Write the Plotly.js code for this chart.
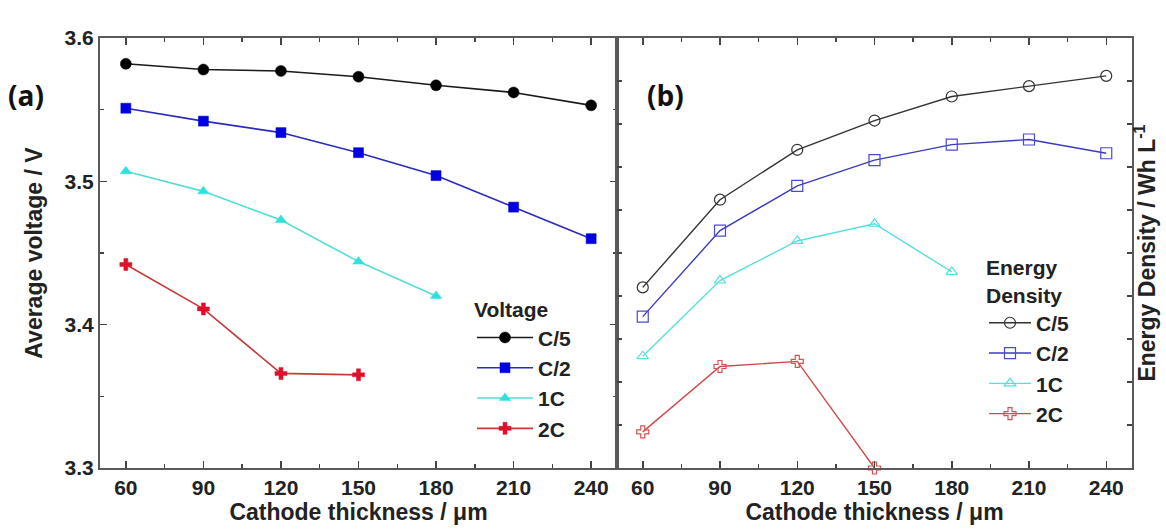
<!DOCTYPE html>
<html><head><meta charset="utf-8">
<script src="https://cdn.plot.ly/plotly-3.0.1.min.js"></script>
<style>html,body{margin:0;padding:0;background:#fff}#chart{width:1166px;height:530px}</style>
</head><body><div id="chart"></div>
<script>
const thickness = [60, 90, 120, 150, 180, 210, 240];
const xTickVals = [60, 90, 120, 150, 180, 210, 240];
const voltTickVals = [3.3, 3.4, 3.5, 3.6];
const rateLabels = ['C/5', 'C/2', '1C', '2C'];
const voltC5 = [3.582, 3.578, 3.577, 3.573, 3.567, 3.562, 3.553];
const voltC2 = [3.551, 3.542, 3.534, 3.520, 3.504, 3.482, 3.460];
const volt1C = [3.507, 3.493, 3.473, 3.444, 3.420];
const volt2C = [3.442, 3.411, 3.366, 3.365];
const energyC5 = [255, 306, 335, 352, 366, 372, 378];
const energyC2 = [238, 288, 314, 329, 338, 341, 333];
const energy1C = [215, 259, 282, 292, 264];
const energy2C = [171, 209, 212, 150];

const FONT = 'Liberation Sans, Arial, sans-serif';
const volts = [voltC5, voltC2, volt1C, volt2C];
const energies = [energyC5, energyC2, energy1C, energy2C];

const leftStyle = [
  {line: '#1a1a1a', marker: '#000000', symbol: 'circle', size: 11},
  {line: '#2b2bb8', marker: '#0000e0', symbol: 'square', size: 10},
  {line: '#55ddd6', marker: '#30e0e0', symbol: 'triangle-up', size: 10},
  {line: '#c83a3a', marker: '#e0102a', symbol: 'cross', size: 10}
];
const rightStyle = [
  {line: '#333333', marker: '#333333', symbol: 'circle-open', size: 11},
  {line: '#3a3ac0', marker: '#4a4ad0', symbol: 'square-open', size: 11},
  {line: '#55e0e0', marker: '#55e0e0', symbol: 'triangle-up-open', size: 10},
  {line: '#d04848', marker: '#d85050', symbol: 'cross-open', size: 10}
];

const traces = [];
volts.forEach((v, i) => {
  traces.push({
    x: thickness.slice(0, v.length), y: v, name: rateLabels[i],
    type: 'scatter', mode: 'lines+markers', xaxis: 'x', yaxis: 'y',
    legend: 'legend', legendgroup: 'v' + i,
    line: {color: leftStyle[i].line, width: 1.6},
    marker: {color: leftStyle[i].marker, symbol: leftStyle[i].symbol, size: leftStyle[i].size,
             line: {color: leftStyle[i].marker, width: 0.5}},
    cliponaxis: false
  });
});
energies.forEach((e, i) => {
  traces.push({
    x: thickness.slice(0, e.length), y: e, name: rateLabels[i],
    type: 'scatter', mode: 'lines+markers', xaxis: 'x2', yaxis: 'y2',
    legend: 'legend2', legendgroup: 'e' + i,
    line: {color: rightStyle[i].line, width: 1.4},
    marker: {color: rightStyle[i].marker, symbol: rightStyle[i].symbol, size: rightStyle[i].size,
             line: {color: rightStyle[i].marker, width: 1.2}},
    cliponaxis: false
  });
});

// plot area: top 38px, bottom 468px (height 430)
const py = (px) => (468 - px) / 430;

const tickFont = {family: FONT, size: 21, color: '#222', weight: 'bold'};
const titleFont = {family: FONT, size: 23, color: '#222', weight: 'bold'};
const legFont = {family: FONT, size: 21, color: '#222', weight: 'bold'};
const axisCommon = {
  showline: true, linecolor: '#5a5a5a', linewidth: 2, mirror: 'ticks',
  ticks: 'inside', ticklen: 7, tickwidth: 1.5, tickcolor: '#444',
  showgrid: false, zeroline: false, tickfont: tickFont, fixedrange: true
};

const layout = {
  width: 1166, height: 530,
  margin: {l: 0, r: 0, t: 38, b: 62},
  paper_bgcolor: '#ffffff', plot_bgcolor: '#ffffff',
  showlegend: true,
  xaxis: Object.assign({}, axisCommon, {
    domain: [100/1166, 617/1166], range: [50, 250], anchor: 'y',
    tickvals: xTickVals, ticktext: xTickVals.map(String),
    minor: {dtick: 15, tick0: 45, ticks: 'inside', ticklen: 4, tickcolor: '#444', tickwidth: 1.5},
    title: {text: 'Cathode thickness / μm', font: titleFont, standoff: 4}
  }),
  yaxis: Object.assign({}, axisCommon, {
    domain: [0, 1], range: [3.3, 3.6], anchor: 'x',
    tickvals: voltTickVals, ticktext: voltTickVals.map(v => v.toFixed(1)),
    minor: {dtick: 0.05, tick0: 3.3, ticks: 'inside', ticklen: 4, tickcolor: '#444', tickwidth: 1.5},
    title: {text: 'Average voltage / V', font: titleFont, standoff: 16}
  }),
  xaxis2: Object.assign({}, axisCommon, {
    domain: [617/1166, 1132/1166], range: [50, 250], anchor: 'y2',
    tickvals: xTickVals, ticktext: xTickVals.map(String),
    minor: {dtick: 15, tick0: 45, ticks: 'inside', ticklen: 4, tickcolor: '#444', tickwidth: 1.5},
    title: {text: 'Cathode thickness / μm', font: titleFont, standoff: 4}
  }),
  yaxis2: Object.assign({}, axisCommon, {
    domain: [0, 1], range: [150, 400], anchor: 'x2', side: 'right',
    dtick: 25, tick0: 150, showticklabels: false, ticklen: 5,
    title: {text: 'Energy Density / Wh L<sup>-1</sup>', font: titleFont, standoff: 6}
  }),
  legend: {
    x: 472/1166, y: py(290), xanchor: 'left', yanchor: 'top',
    bgcolor: 'rgba(0,0,0,0)', borderwidth: 0,
    font: legFont, itemwidth: 56,
    title: {text: 'Voltage', font: legFont},
    traceorder: 'grouped', tracegroupgap: 0, itemsizing: 'trace'
  },
  legend2: {
    x: 984/1166, y: py(248), xanchor: 'left', yanchor: 'top',
    bgcolor: 'rgba(0,0,0,0)', borderwidth: 0,
    font: legFont, itemwidth: 42,
    title: {text: 'Energy<br>Density', font: legFont},
    traceorder: 'grouped', tracegroupgap: 0, itemsizing: 'trace'
  },
  annotations: [
    {text: '(a)', xref: 'paper', yref: 'paper', x: 6/1166, y: py(95),
     xanchor: 'left', yanchor: 'middle', showarrow: false,
     font: {family: 'Open Sans, Noto Sans, sans-serif', size: 28, color: '#111', weight: 'bold'}},
    {text: '(b)', xref: 'paper', yref: 'paper', x: 645/1166, y: py(95),
     xanchor: 'left', yanchor: 'middle', showarrow: false,
     font: {family: 'Open Sans, Noto Sans, sans-serif', size: 28, color: '#111', weight: 'bold'}}
  ]
};

Plotly.newPlot('chart', traces, layout, {displayModeBar: false, staticPlot: true});
</script>
</body></html>
